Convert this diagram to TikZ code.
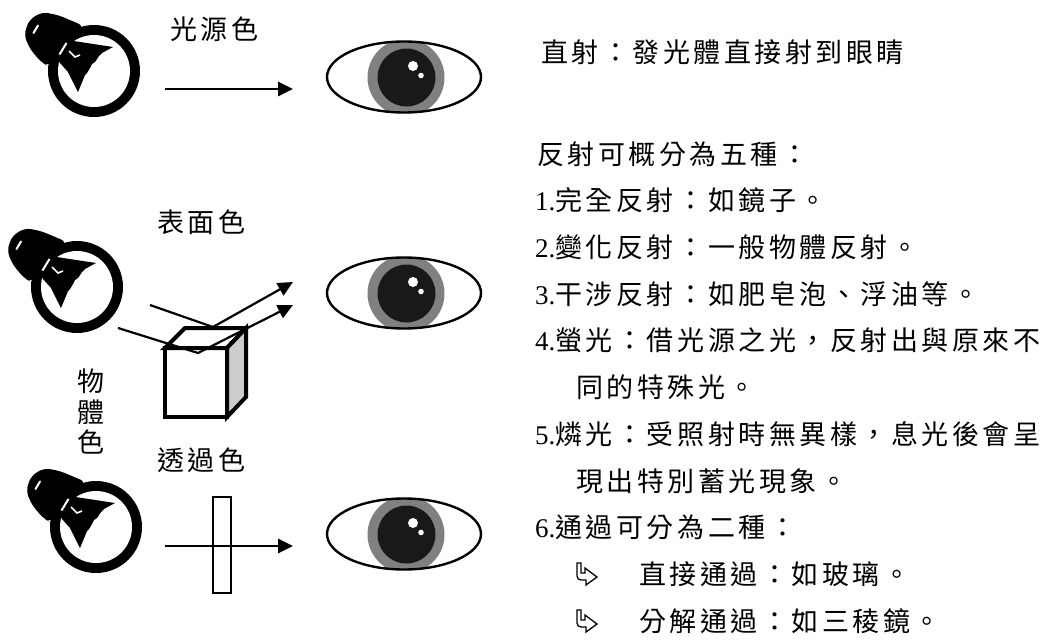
\documentclass[tikz,border=0pt]{standalone}
\usepackage{fontspec}
\usetikzlibrary{arrows.meta}
\newfontfamily\cjk[LetterSpace=13]{Noto Sans CJK TC}
\newfontfamily\lat{Liberation Serif}

\tikzset{
  txt/.style={font=\cjk\fontsize{27}{30.5}\selectfont, inner sep=0pt, anchor=base west},
  ray/.style={line width=2.8pt, -{Triangle[length=15pt,width=14pt]}},
  thinray/.style={line width=2.2pt, line join=miter, -{Triangle[length=15pt,width=14pt]}},
  cubeline/.style={line width=4pt, line join=miter},
  % light bulb icon, centred on its glass globe
  bulb/.pic={
    \fill[black] (0,0) circle[radius=46];
    \fill[black, rounded corners=6] (-70,-36) -- (-65,-51) -- (-52,-59) -- (-36,-56)
         -- (-10,-45) -- (-30,-25) -- (-45,-5) -- (-52,-8) -- (-64,-22) -- cycle;
    \fill[white] (0,0) circle[radius=36];
    % filament
    \fill[black] (-40,-20) -- (-30,-33) -- (-27,-31) -- (19,-24) -- (8,-18) -- (5,-15)
         -- (1,-9) -- (-2,-7) -- (-4,-3) -- (-7,2) -- (-9,4) -- (-11,9) -- (-16,21)
         -- (-26,1) -- (-34,-8) -- cycle;
    \draw[white, line width=2pt] (-34.5,-16.5) -- (-27.5,-28);
    \draw[white, line width=1.6pt] (-25,-20) -- (-19,-14) -- (-14,-16);
    \draw[white, line width=2pt, line cap=round] (-60.5,-38) -- (-56,-45.5);
  },
  % eye icon, centred on the white of the eye
  eye/.pic={
    \begin{scope}
      \clip (0,0) ellipse [x radius=77, y radius=35.5];
      \fill[black!50] (2,0.5) circle[radius=38.5];
      \fill[black!90] (2.5,0.5) circle[radius=29];
    \end{scope}
    \draw[line width=2.4pt] (0,0) ellipse [x radius=77, y radius=35.5];
    \fill[white] (9,-11) circle[radius=5];
    \fill[white] (17,-1.5) circle[radius=2.8];
  },
  % hollow bent-arrow bullet
  bentarrow/.pic={
    \draw[line width=1.3pt, line join=miter] (0,0) -- (4,0) -- (4,10) -- (8,10) -- (8,5)
      -- (20,14) -- (9,22) -- (9,17) -- (4,17) to[out=180,in=-90] (0,13) -- cycle;
  }
}

\begin{document}
\begin{tikzpicture}[x=1pt, y=-1pt]
  \useasboundingbox (0,0) rectangle (1058,641);

  % light sources
  \pic (bulbA) at (94,71) {bulb};
  \pic (bulbB) at (77,287) {bulb};
  \pic (bulbC) at (96,527) {bulb};

  % viewers
  \pic (eyeA) at (404,77) {eye};
  \pic (eyeB) at (404,293) {eye};
  \pic (eyeC) at (404,534) {eye};

  % light-source colour
  \node[txt] (lblA) at (170,39.5) {光源色};
  \coordinate (a1s) at (165,89);
  \coordinate (a1e) at (293,89);
  \draw[ray] (a1s) -- (a1e);

  % surface colour: cube reflecting two rays
  \node[txt] (lblB) at (157,232) {表面色};
  \filldraw[cubeline, fill=white] (165,348) rectangle (227,417);
  \filldraw[cubeline, fill=white] (165,348) -- (185,328) -- (246,328) -- (227,348) -- cycle;
  \filldraw[cubeline, fill=black!20] (227,348) -- (246,328) -- (246,397) -- (227,417) -- cycle;
  \coordinate (in1) at (150,305);
  \coordinate (hit1) at (213,327);
  \coordinate (out1) at (293,282);
  \coordinate (in2) at (118,328);
  \coordinate (hit2) at (198,353);
  \coordinate (out2) at (293,305);
  \draw[thinray] (in1) -- (hit1) -- (out1);
  \draw[thinray] (in2) -- (hit2) -- (out2);

  % object colour
  \node[font=\cjk\fontsize{27}{30.5}\selectfont, inner sep=0pt, align=center] (lblObj) at (91,412) {物\\體\\色};

  % transmitted colour: ray through a glass plate
  \node[txt] (lblC) at (157,470) {透過色};
  \draw[line width=2pt, fill=white] (213,497) rectangle (231,593);
  \coordinate (a3s) at (165,546);
  \coordinate (a3e) at (293,546);
  \draw[ray] (a3s) -- (a3e);

  % notes
  \node[txt] (t0) at (541,62) {直射：發光體直接射到眼睛};
  \node[txt] (t1) at (537,164) {反射可概分為五種：};
  \node[txt] (t2) at (535,210) {{\lat 1.}完全反射：如鏡子。};
  \node[txt] (t3) at (535,257) {{\lat 2.}變化反射：一般物體反射。};
  \node[txt] (t4) at (535,304) {{\lat 3.}干涉反射：如肥皂泡、浮油等。};
  \node[txt] (t5) at (535,350) {{\lat 4.}螢光：借光源之光，反射出與原來不};
  \node[txt] (t6) at (576,397) {同的特殊光。};
  \node[txt] (t7) at (535,444) {{\lat 5.}燐光：受照射時無異樣，息光後會呈};
  \node[txt] (t8) at (576,491) {現出特別蓄光現象。};
  \node[txt] (t9) at (535,537) {{\lat 6.}通過可分為二種：};
  \pic (bulA) at (577,563) {bentarrow};
  \node[txt] (t10) at (639,584) {直接通過：如玻璃。};
  \pic (bulB) at (577,610) {bentarrow};
  \node[txt] (t11) at (639,631) {分解通過：如三稜鏡。};
\end{tikzpicture}
\end{document}
